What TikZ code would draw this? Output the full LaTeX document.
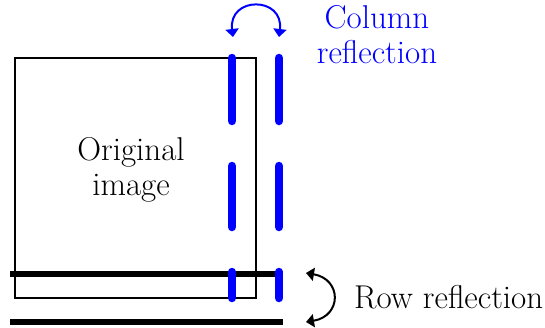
\documentclass[tikz,border=0pt]{standalone}
\usetikzlibrary{arrows.meta}
\definecolor{refblue}{RGB}{0,0,255}
\tikzset{
  bluedash/.style={refblue, line width=8.5pt, line cap=round},
  blackbar/.style={black, line width=6pt},
  lbl/.style={font=\rmfamily\fontsize{33}{35}\selectfont, align=center, inner sep=0pt},
  tip/.tip={Triangle[width=13pt,length=8pt]},
  flip/.style={line width=2pt, tip-tip}
}
\begin{document}
\begin{tikzpicture}[x=1pt,y=-1pt]
\useasboundingbox (0,0) rectangle (545,327);
% original image
\node[draw, line width=1.2pt, minimum width=241pt, minimum height=240pt, inner sep=0pt] (img) at (135.5,178) {};
\node[lbl] (imgtxt) at (131,170) {Original\\image};
% row lines
\coordinate (r1a) at (10,274); \coordinate (r1b) at (283,274);
\coordinate (r2a) at (10,322); \coordinate (r2b) at (283,322);
\draw[blackbar] (r1a) -- (r1b);
\draw[blackbar] (r2a) -- (r2b);
% column lines
\coordinate (cl1a) at (232,58); \coordinate (cl1b) at (232,121);
\coordinate (cl2a) at (232,166); \coordinate (cl2b) at (232,227);
\coordinate (cl3a) at (232,272); \coordinate (cl3b) at (232,298);
\coordinate (cr1a) at (279,58); \coordinate (cr1b) at (279,121);
\coordinate (cr2a) at (279,166); \coordinate (cr2b) at (279,227);
\coordinate (cr3a) at (279,272); \coordinate (cr3b) at (279,298);
\draw[bluedash] (cl1a) -- (cl1b);
\draw[bluedash] (cl2a) -- (cl2b);
\draw[bluedash] (cl3a) -- (cl3b);
\draw[bluedash] (cr1a) -- (cr1b);
\draw[bluedash] (cr2a) -- (cr2b);
\draw[bluedash] (cr3a) -- (cr3b);
% column reflection arrow
\coordinate (ca) at (233,37); \coordinate (cb) at (279,37);
\draw[flip, refblue] (ca) .. controls (228,-4) and (284,-4) .. (cb);
\node[lbl, text=refblue] (coltxt) at (377,35) {Column\\reflection};
% row reflection arrow
\coordinate (ra) at (306,273); \coordinate (rb) at (306,322);
\draw[flip] (ra) .. controls (342,279) and (342,316) .. (rb);
\node[lbl, anchor=west] (rowtxt) at (354,297) {Row reflection};
\end{tikzpicture}
\end{document}
